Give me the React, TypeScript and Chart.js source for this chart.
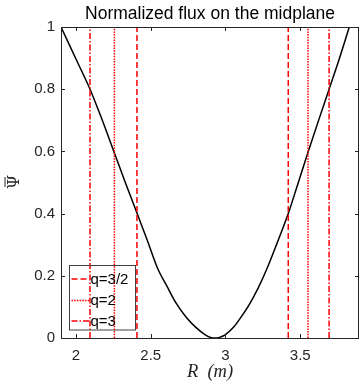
import React, { useEffect, useRef } from 'react';
import { Chart, registerables } from 'chart.js';

Chart.register(...registerables);

// Curve: normalized flux vs major radius
const R_VALUES = [1.9, 2.0, 2.094, 2.17, 2.257, 2.33, 2.408, 2.48, 2.545, 2.61, 2.67, 2.74, 2.8, 2.865, 2.9, 2.93, 2.96, 2.995, 3.055, 3.105, 3.162, 3.22, 3.275, 3.345, 3.42, 3.485, 3.552, 3.625, 3.693, 3.758, 3.828];
const PSI_VALUES = [1.0, 0.897, 0.8, 0.708, 0.595, 0.5, 0.402, 0.31, 0.225, 0.165, 0.112, 0.065, 0.035, 0.01, 0.002, 0.0, 0.002, 0.009, 0.035, 0.068, 0.11, 0.162, 0.22, 0.305, 0.4, 0.497, 0.597, 0.703, 0.8, 0.893, 1.0];

// Rational surfaces
const Q_LABELS = ['q=3/2', 'q=2', 'q=3'];
const Q_LEFT = [2.408, 2.257, 2.094];
const Q_RIGHT = [3.42, 3.552, 3.693];

const X_TICKS = [2, 2.5, 3, 3.5];
const Y_TICKS = [0, 0.2, 0.4, 0.6, 0.8, 1];
const X_MIN = 1.9;
const X_MAX = 3.893;

const DASHES = [[6, 3], [1.5, 1.2], [6, 2, 1.5, 2]];
const RED = '#ff0000';
const AXIS_COLOR = '#262626';
const SANS = "'Liberation Sans', Arial, Helvetica, sans-serif";

const frameAndLegend = {
  id: 'frameAndLegend',
  afterDraw(chart: any) {
    const { ctx, chartArea: a, scales } = chart;
    const xs = scales.x;
    const ys = scales.y;
    ctx.save();
    // box
    ctx.strokeStyle = AXIS_COLOR;
    ctx.lineWidth = 1;
    ctx.strokeRect(Math.round(a.left) + 0.5, Math.round(a.top) + 0.5, Math.round(a.right - a.left) - 1, Math.round(a.bottom - a.top));
    // inward ticks
    const tl = 4;
    ctx.beginPath();
    X_TICKS.forEach((v) => {
      const px = Math.round(xs.getPixelForValue(v)) + 0.5;
      ctx.moveTo(px, a.bottom);
      ctx.lineTo(px, a.bottom - tl);
      ctx.moveTo(px, a.top);
      ctx.lineTo(px, a.top + tl);
    });
    Y_TICKS.forEach((v) => {
      const py = Math.round(ys.getPixelForValue(v)) + 0.5;
      ctx.moveTo(a.left, py);
      ctx.lineTo(a.left + tl, py);
      ctx.moveTo(a.right, py);
      ctx.lineTo(a.right - tl, py);
    });
    ctx.stroke();

    // y axis label: Psi with overbar, rotated
    ctx.save();
    ctx.translate(13, 182);
    ctx.rotate(-Math.PI / 2);
    ctx.fillStyle = AXIS_COLOR;
    ctx.font = `16px 'DejaVu Serif', 'Liberation Serif', serif`;
    ctx.textAlign = 'center';
    ctx.textBaseline = 'middle';
    ctx.fillText('Ψ', 0, 1.5);
    ctx.fillRect(-5, -8.5, 10, 1);
    ctx.restore();

    // legend
    const bx = 69.5, by = 265.5, bw = 66, bh = 64.5;
    ctx.strokeStyle = '#404040';
    ctx.lineWidth = 1;
    ctx.strokeRect(bx, by, bw, bh);
    const rows = [279, 300.5, 321];
    ctx.font = `15px ${SANS}`;
    ctx.textBaseline = 'middle';
    ctx.textAlign = 'left';
    Q_LABELS.forEach((lab, i) => {
      ctx.strokeStyle = RED;
      ctx.lineWidth = 1.5;
      ctx.setLineDash(DASHES[i]);
      ctx.beginPath();
      ctx.moveTo(71.5, rows[i]);
      ctx.lineTo(89, rows[i]);
      ctx.stroke();
      ctx.setLineDash([]);
      ctx.fillStyle = '#000';
      ctx.fillText(lab, 90.5, rows[i] + 0.5);
    });
    ctx.restore();
  },
};

export default function App() {
  const ref = useRef<HTMLCanvasElement>(null);

  useEffect(() => {
    document.body.style.margin = '0';
    const curve = R_VALUES.map((r, i) => ({ x: r, y: PSI_VALUES[i] }));
    const lineSets: any[] = [];
    Q_LABELS.forEach((lab, i) => {
      [Q_LEFT[i], Q_RIGHT[i]].forEach((r) => {
        lineSets.push({
          label: lab,
          data: [{ x: r, y: 0 }, { x: r, y: 1 }],
          borderColor: RED,
          borderWidth: 1.5,
          borderDash: DASHES[i],
          pointRadius: 0,
          fill: false,
        });
      });
    });
    const chart = new Chart(ref.current as HTMLCanvasElement, {
      type: 'line',
      data: {
        datasets: [
          ...lineSets,
          {
            label: 'psi',
            data: curve,
            borderColor: '#000',
            borderWidth: 1.5,
            pointRadius: 0,
            cubicInterpolationMode: 'monotone',
            fill: false,
          },
        ],
      },
      options: {
        animation: false,
        responsive: false,
        layout: { padding: { left: 0, right: 1, top: 0, bottom: 0 } },
        plugins: {
          legend: { display: false },
          tooltip: { enabled: false },
          title: {
            display: true,
            fullSize: false,
            text: 'Normalized flux on the midplane',
            color: '#000',
            font: { family: SANS, size: 17.5, weight: 'normal' },
            padding: { top: 3.3, bottom: 2.7 },
          },
        },
        scales: {
          x: {
            type: 'linear',
            min: X_MIN,
            max: X_MAX,
            afterBuildTicks: (s: any) => {
              s.ticks = X_TICKS.map((v) => ({ value: v }));
            },
            afterFit: (s: any) => {
              s.height = 47;
            },
            grid: { display: false, drawTicks: false },
            border: { display: false },
            ticks: {
              color: AXIS_COLOR,
              font: { family: SANS, size: 15 },
              padding: 9,
              maxRotation: 0,
              autoSkip: false,
              callback: (v: any) => String(v),
            },
            title: {
              display: true,
              text: 'R  (m)',
              color: AXIS_COLOR,
              font: { family: "'Liberation Serif', 'Times New Roman', serif", size: 18.5, style: 'italic' },
              padding: { top: 0, bottom: 1.5 },
            },
          },
          y: {
            type: 'linear',
            min: 0,
            max: 1,
            afterBuildTicks: (s: any) => {
              s.ticks = Y_TICKS.map((v) => ({ value: v }));
            },
            afterFit: (s: any) => {
              s.width = 61;
            },
            grid: { display: false, drawTicks: false },
            border: { display: false },
            ticks: {
              color: AXIS_COLOR,
              font: { family: SANS, size: 15 },
              padding: 6,
              autoSkip: false,
              callback: (v: any) => String(v),
            },
          },
        },
      },
      plugins: [frameAndLegend],
    } as any);
    return () => chart.destroy();
  }, []);

  return <canvas ref={ref} width={360} height={385} style={{ display: 'block' }} />;
}
